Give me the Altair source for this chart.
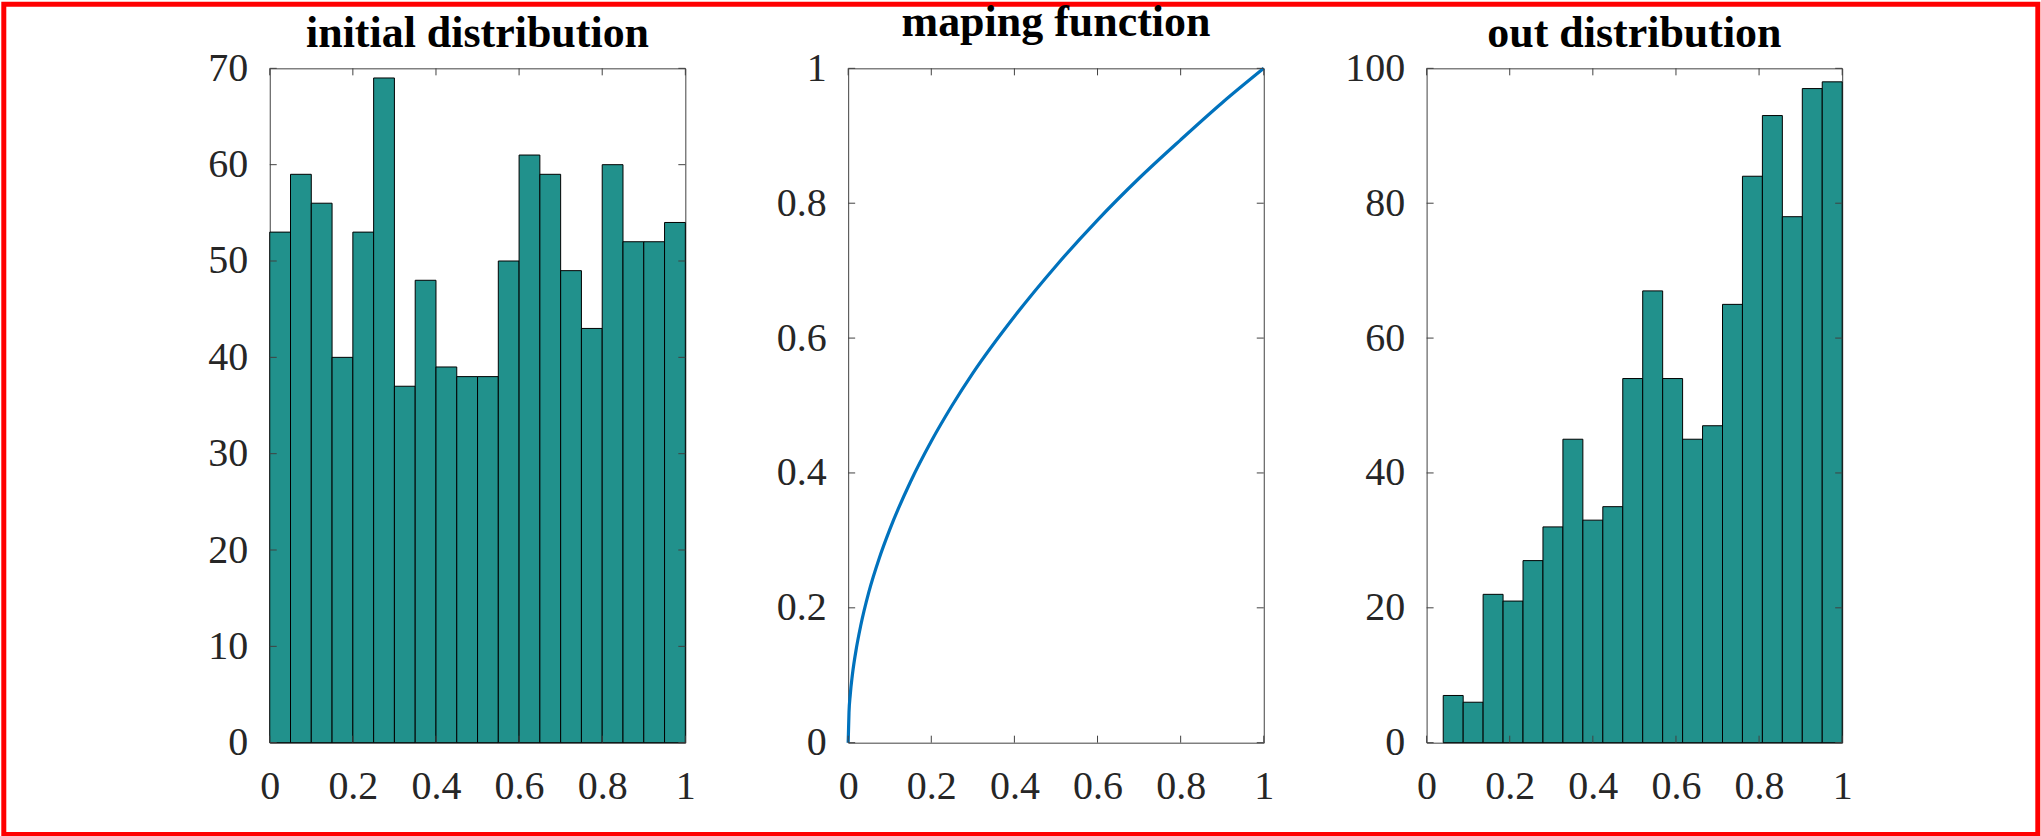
import altair as alt
import pandas as pd

# ---------------- data ----------------
init_edges = [0.00, 0.05, 0.10, 0.15, 0.20, 0.25, 0.30, 0.35, 0.40, 0.45, 0.50,
              0.55, 0.60, 0.65, 0.70, 0.75, 0.80, 0.85, 0.90, 0.95, 1.00]
init_counts = [53, 59, 56, 40, 53, 69, 37, 48, 39, 38,
               38, 50, 61, 59, 49, 43, 60, 52, 52, 54]

out_edges = [0.040, 0.088, 0.136, 0.184, 0.232, 0.280, 0.328, 0.376, 0.424, 0.472, 0.520,
             0.568, 0.616, 0.664, 0.712, 0.760, 0.808, 0.856, 0.904, 0.952, 1.000]
out_counts = [7, 6, 22, 21, 27, 32, 45, 33, 35, 54,
              67, 54, 45, 47, 65, 84, 93, 78, 97, 98]

map_x = [0.0, 0.002, 0.005, 0.01, 0.02, 0.03, 0.05, 0.075, 0.1, 0.15, 0.2,
         0.25, 0.3, 0.4, 0.5, 0.6, 0.7, 0.8, 0.9, 1.0]
map_y = [0.0, 0.045, 0.071, 0.100, 0.141, 0.173, 0.224, 0.274, 0.316, 0.387, 0.447,
         0.500, 0.548, 0.632, 0.707, 0.775, 0.837, 0.894, 0.949, 1.0]

titles = ["initial distribution", "maping function", "out distribution"]
x_ticks = [0, 0.2, 0.4, 0.6, 0.8, 1]
y_ticks_init = [0, 10, 20, 30, 40, 50, 60, 70]
y_ticks_map = [0, 0.2, 0.4, 0.6, 0.8, 1]
y_ticks_out = [0, 20, 40, 60, 80, 100]

# ---------------- style ----------------
W, H = 416, 675
FONT = "Liberation Serif"
LABEL_COLOR = "#262626"
FRAME = "#404040"
BAR = "#21918c"
LINE = "#0072BD"
TICK_LEN = 7


def xaxis():
    return alt.Axis(values=x_ticks, format=".1~f", domain=False, ticks=False, tickSize=0,
                    grid=False, labelFont=FONT, labelFontSize=40, labelColor=LABEL_COLOR,
                    labelPadding=24, labelFlush=False, labelOverlap=False, labelBound=False,
                    title=None)


def yaxis(vals, fmt):
    return alt.Axis(values=vals, format=fmt, domain=False, ticks=False, tickSize=0,
                    grid=False, labelFont=FONT, labelFontSize=40, labelColor=LABEL_COLOR,
                    labelPadding=22, labelOverlap=False, labelBound=False, labelFlush=False,
                    title=None)


def panel(main_layer, xs, ys, yvals, yfmt, title, title_y, border=False):
    X = lambda f: alt.X(f, type="quantitative", scale=xs, axis=xaxis(), title=None)
    Y = lambda f: alt.Y(f, type="quantitative", scale=ys, axis=yaxis(yvals, yfmt), title=None)

    xt = pd.DataFrame({"v": x_ticks})
    yt = pd.DataFrame({"v": yvals})
    tick = dict(color=FRAME, strokeWidth=1)
    bottom = alt.Chart(xt).mark_rule(**tick).encode(
        x=X("v"), y=alt.value(H), y2=alt.value(H - TICK_LEN))
    top = alt.Chart(xt).mark_rule(**tick).encode(
        x=X("v"), y=alt.value(0), y2=alt.value(TICK_LEN))
    left = alt.Chart(yt).mark_rule(**tick).encode(
        y=Y("v"), x=alt.value(0), x2=alt.value(TICK_LEN))
    right = alt.Chart(yt).mark_rule(**tick).encode(
        y=Y("v"), x=alt.value(W), x2=alt.value(W - TICK_LEN))

    tdf = pd.DataFrame({"t": [title]})
    ttl = alt.Chart(tdf).mark_text(font=FONT, fontSize=44, fontWeight="bold", color="black",
                                   align="center", baseline="alphabetic").encode(
        text="t:N", x=alt.value(W / 2), y=alt.value(title_y))

    layers = [main_layer(X, Y), bottom, top, left, right, ttl]
    if border:
        ox, oy = 268.7, 66.7
        rect = alt.Chart(tdf).mark_rect(fill="transparent", stroke="#ff0000", strokeWidth=5).encode(
            x=alt.value(-ox + 2.5), x2=alt.value(2041 - ox - 2.5),
            y=alt.value(-oy + 2.5), y2=alt.value(836 - oy - 2.5))
        layers.append(rect)
    return alt.layer(*layers).properties(width=W, height=H)


xs = alt.Scale(domain=[0, 1], nice=False, zero=False)

init_df = pd.DataFrame({"lo": init_edges[:-1], "hi": init_edges[1:], "c": init_counts})
out_df = pd.DataFrame({"lo": out_edges[:-1], "hi": out_edges[1:], "c": out_counts})
map_df = pd.DataFrame({"x": map_x, "y": map_y})


def bars(df):
    def f(X, Y):
        return alt.Chart(df).mark_rect(fill=BAR, stroke="#000000", strokeWidth=1).encode(
            x=X("lo"), x2="hi", y=Y("c"), y2=alt.datum(0))
    return f


def curve(X, Y):
    return alt.Chart(map_df).mark_line(color=LINE, strokeWidth=3.2, interpolate="monotone").encode(
        x=X("x"), y=Y("y"))


p1 = panel(bars(init_df), xs, alt.Scale(domain=[0, 70], nice=False, zero=True),
           y_ticks_init, "d", titles[0], -21.7, border=True)
p2 = panel(curve, xs, alt.Scale(domain=[0, 1], nice=False, zero=True),
           y_ticks_map, ".1~f", titles[1], -32.4)
p3 = panel(bars(out_df), xs, alt.Scale(domain=[0, 100], nice=False, zero=True),
           y_ticks_out, "d", titles[2], -21.7)

chart = alt.hconcat(p1, p2, p3, spacing=163, bounds="flush").properties(
    padding=0, background="white"
).configure_view(stroke=FRAME, strokeWidth=1)

chart.save("out.html", embed_options={"renderer": "svg", "actions": False})
